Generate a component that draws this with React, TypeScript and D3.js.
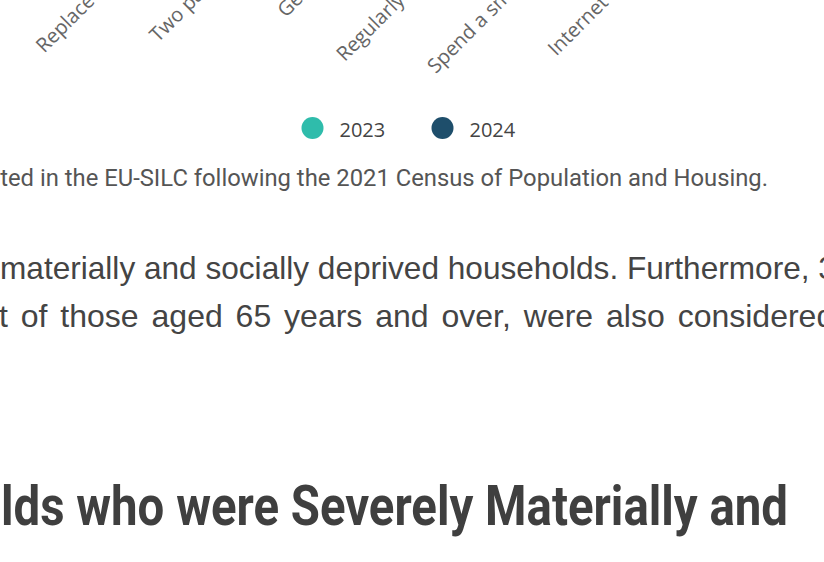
import React, { useEffect, useRef } from 'react';
import * as d3 from 'd3';

// categories on the x axis (only the lower part of their labels shows)
const categories = [
  'Replace old clothes',
  'Two pair of shoes',
  'Get-togethers',
  'Regularly participate',
  'Spend a small amount',
  'Internet connection',
];

const seriesNames = ['2023', '2024'];
const seriesColors = ['#2fbcab', '#1e4e6b'];

const footnote =
  'New population weights were implemented in the EU-SILC following the 2021 Census of Population and Housing.';

const paragraphLines = [
  'materially and socially deprived households. Furthermore, 3',
  't of those aged 65 years and over, were also considered',
];

const heading = 'lds who were Severely Materially and';

const W = 824;
const H = 562;

const App = () => {
  const svgRef = useRef<SVGSVGElement | null>(null);

  useEffect(() => {
    const svg = d3.select(svgRef.current);
    svg.selectAll('*').remove();

    // x axis labels (axis itself sits above the visible area)
    const axisY = -73;
    const x = d3.scalePoint<string>()
      .domain(categories)
      .range([171, 686]);

    svg.append('g')
      .selectAll('text')
      .data(categories)
      .enter()
      .append('text')
      .attr('x', d => x(d) as number)
      .attr('y', axisY)
      .attr('transform', d => `rotate(-45 ${x(d)} ${axisY})`)
      .attr('text-anchor', 'end')
      .style('font-family', '"Open Sans", sans-serif')
      .style('font-size', '20px')
      .style('fill', '#666666')
      .text(d => d);

    // legend
    const legendX = d3.scalePoint<string>()
      .domain(seriesNames)
      .range([312.5, 442.5]);
    const legend = svg.append('g');
    seriesNames.forEach((name, i) => {
      const cx = legendX(name) as number;
      legend.append('circle')
        .attr('cx', cx)
        .attr('cy', 128)
        .attr('r', 11)
        .attr('fill', seriesColors[i]);
      legend.append('text')
        .attr('x', cx + 27)
        .attr('y', 137)
        .style('font-family', '"Open Sans", sans-serif')
        .style('font-size', '20px')
        .style('fill', '#444444')
        .text(name);
    });

    // source note
    svg.append('text')
      .attr('x', 768)
      .attr('y', 186)
      .attr('text-anchor', 'end')
      .style('font-family', 'Roboto, sans-serif')
      .style('font-size', '23.8px')
      .style('fill', '#555555')
      .text(footnote);

    // body paragraph (justified)
    svg.append('text')
      .attr('x', 0)
      .attr('y', 279)
      .style('font-family', '"Liberation Sans", Arial, sans-serif')
      .style('font-size', '31.6px')
      .style('fill', '#444444')
      .text(paragraphLines[0]);
    svg.append('text')
      .attr('x', -1)
      .attr('y', 327)
      .attr('word-spacing', 4)
      .style('font-family', '"Liberation Sans", Arial, sans-serif')
      .style('font-size', '32px')
      .style('fill', '#444444')
      .text(paragraphLines[1]);

    // section heading
    svg.append('text')
      .attr('x', 1)
      .attr('y', 525)
      .attr('textLength', 787)
      .attr('lengthAdjust', 'spacingAndGlyphs')
      .style('font-family', 'Roboto, sans-serif')
      .style('font-weight', 700)
      .style('font-size', '56px')
      .style('fill', '#3f3f3f')
      .text(heading);
  }, []);

  return (
    <svg
      ref={svgRef}
      width={W}
      height={H}
      style={{ position: 'absolute', left: 0, top: 0, background: '#ffffff' }}
    />
  );
};

export default App;
